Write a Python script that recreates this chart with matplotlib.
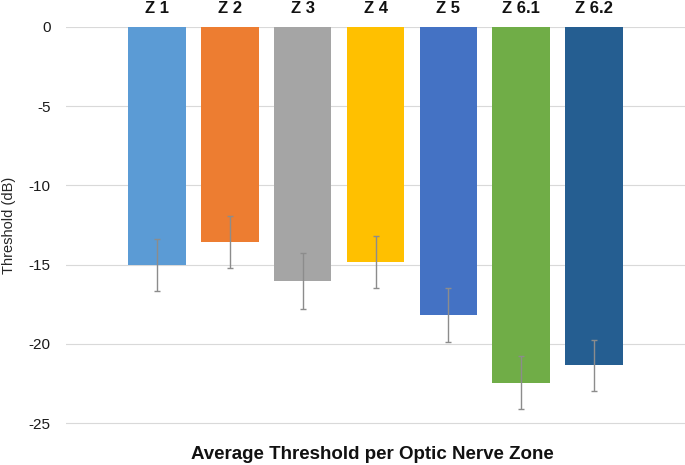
import matplotlib
matplotlib.use("Agg")
import matplotlib.pyplot as plt
import numpy as np

categories = ["Z 1", "Z 2", "Z 3", "Z 4", "Z 5", "Z 6.1", "Z 6.2"]
values = [-15.05, -13.57, -16.04, -14.84, -18.18, -22.45, -21.36]
errors = [1.64, 1.62, 1.75, 1.64, 1.73, 1.67, 1.60]
colors = ["#5B9BD5", "#ED7D31", "#A5A5A5", "#FFC000", "#4472C4", "#70AD47", "#255E91"]
yticks = [0, -5, -10, -15, -20, -25]

plt.rcParams['font.family'] = ['Liberation Sans', 'DejaVu Sans']

fig = plt.figure(figsize=(6.85, 4.65), dpi=100)
ppu = (423 - 27) / 25.0
ax = fig.add_axes([66/685, 1 - (27 + 25.1*ppu)/465, 1 - 66/685, 25.1*ppu/465])

x = np.arange(len(categories))
ax.bar(x, values, width=0.79, color=colors, zorder=2)
ax.errorbar(x, values, yerr=errors, fmt='none', ecolor='#8C8C8C',
            elinewidth=1.0, capsize=2.5, capthick=1.0, zorder=3)

ax.set_xlim(-1.25, 7.25)
ax.set_ylim(-25.1, 0)
ax.set_yticks(yticks)
ax.set_yticklabels([str(t) for t in yticks], fontsize=11, color='#1a1a1a')
ax.yaxis.grid(True, color='#D9D9D9', linewidth=0.8, zorder=0)
ax.set_axisbelow(True)
ax.tick_params(axis='y', length=0, pad=11)

ax.xaxis.tick_top()
ax.set_xticks(x)
ax.set_xticklabels(categories, fontsize=12, fontweight='bold', color='#111111')
ax.tick_params(axis='x', length=0, pad=8)

for s in ax.spines.values():
    s.set_visible(False)

ax.set_ylabel("Threshold (dB)", fontsize=10.5, color='#262626', labelpad=9)
fig.text(372.5/685, 1 - 454/465, "Average Threshold per Optic Nerve Zone",
         ha='center', va='center', fontsize=13.5, fontweight='bold', color='#111111')

fig.savefig("out.png", dpi=100)
